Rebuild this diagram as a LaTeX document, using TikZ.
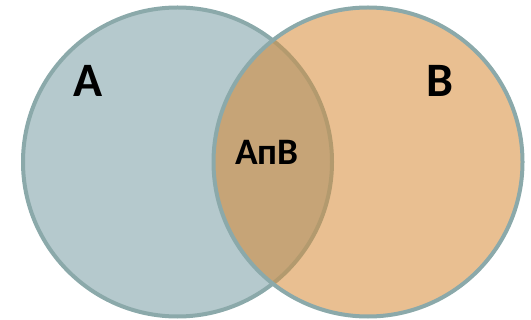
\documentclass[tikz,border=0pt]{standalone}
\usepackage{fontspec}
\setmainfont{Carlito}
\definecolor{fillA}{HTML}{B5C9CD}
\definecolor{fillB}{HTML}{E9BF91}
\definecolor{fillAB}{HTML}{C6A477}
\definecolor{ringcol}{HTML}{8BA9AA}
\definecolor{innerarc}{HTML}{B39A6E}
\begin{document}
\begin{tikzpicture}[x=0.75pt,y=-0.75pt,
  ring/.style={line width=3pt},
  setlabel/.style={font=\bfseries\fontsize{36}{40}\selectfont, anchor=base, inner sep=0pt},
  meetlabel/.style={font=\bfseries\fontsize{28}{32}\selectfont, anchor=base, inner sep=0pt}]
\useasboundingbox (0,0) rectangle (531,320);
\coordinate (ca) at (177.5,162);
\coordinate (cb) at (368,162);
\def\rr{154.5}
% left set
\fill[fillA] (ca) circle[radius=\rr];
\draw[ring, ringcol] (ca) circle[radius=\rr];
% right set
\fill[fillB] (cb) circle[radius=\rr];
% intersection
\begin{scope}
  \clip (ca) circle[radius=\rr];
  \fill[fillAB] (cb) circle[radius=\rr];
\end{scope}
\begin{scope}
  \clip (cb) circle[radius=\rr];
  \draw[ring, innerarc] (ca) circle[radius=\rr];
\end{scope}
\draw[ring, ringcol] (cb) circle[radius=\rr];
% labels
\node[setlabel] (la) at (88,97) {A};
\node[setlabel] (lb) at (440,97) {B};
\node[meetlabel] (lab) at (267,165) {AпB};
\end{tikzpicture}
\end{document}
